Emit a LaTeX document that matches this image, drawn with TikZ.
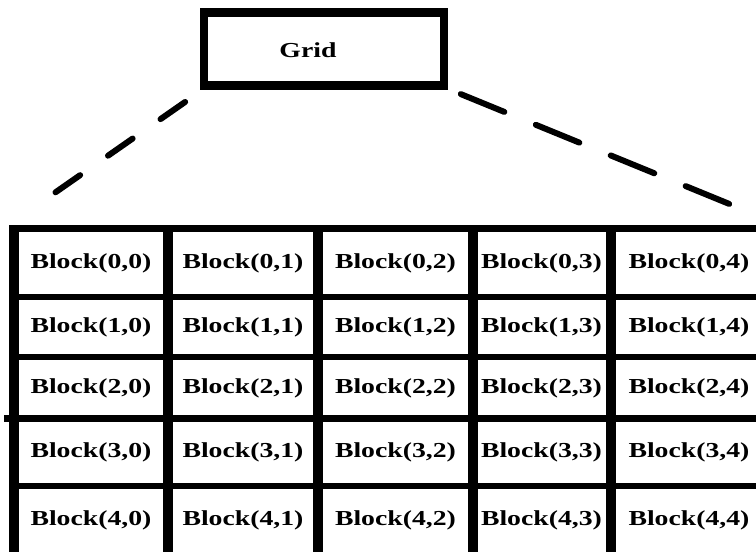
\documentclass[tikz,border=0pt]{standalone}
\usepackage{fontspec}
\setmainfont{Liberation Serif}[FakeStretch=1.3]
\tikzset{
  gridbox/.style={draw, line width=6.4pt, minimum width=180pt, minimum height=54.75pt, inner sep=0pt},
  celltext/.style={font=\fontsize{16}{18}\selectfont\bfseries, inner sep=0pt},
  vrule/.style={line width=7.5pt},
  hrule/.style={line width=4.9pt},
  link/.style={line width=4.5pt, line cap=round},
}
\begin{document}
\begin{tikzpicture}[x=0.75pt, y=-0.75pt]
                \useasboundingbox (0,0) rectangle (756,551);
                \clip (0,0) rectangle (756,551);
                
                \node[gridbox] (grid) at (324,49) {};
                \node[celltext] (gridlabel) at (308,50) {Grid};
                
                \coordinate (gl) at (185.5,101.7);
                \coordinate (tl) at (55.5,192.3);
                \coordinate (gr) at (460.8,94.1);
                \coordinate (tr) at (729.2,203.9);
                \draw[link, dash pattern=on 22.5pt off 25.5pt] (tl) -- (gl);
                \draw[link, dash pattern=on 35.25pt off 25.5pt] (gr) -- (tr);
                
                \foreach \x in {14,168,318,472.5,611}
                    \draw[vrule] (\x,225) -- (\x,560);
                \foreach \y in {228.5,297,357,486}
                    \draw[hrule] (9,\y) -- (770,\y);
                \draw[hrule] (4,418.5) -- (770,418.5);
                
                \foreach \r/\y in {0/263,1/327,2/388,3/452,4/520}
                    \foreach \c/\x in {0/91,1/243,2/395.5,3/541.5,4/689}
                        \node[celltext] (b\r\c) at (\x,\y) {Block(\r,\c)};
            \end{tikzpicture}
\end{document}
